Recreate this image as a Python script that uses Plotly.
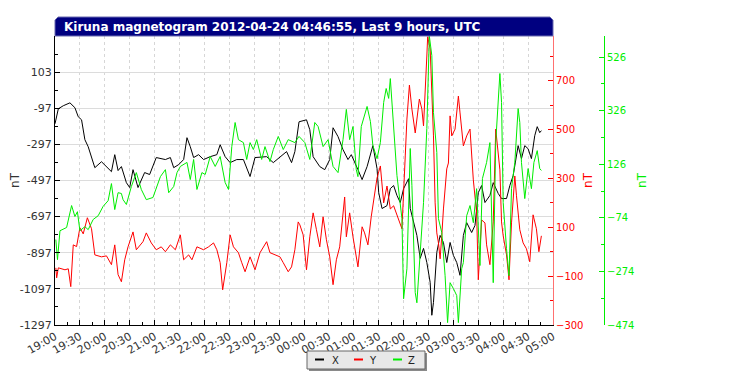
import pandas as pd
import plotly.graph_objects as go

# minutes after 2012-04-23 19:00 UTC
X_min = [0,4,10,18,24,28,32,36,40,44,48,56,62,68,72,76,80,86,90,94,100,108,114,122,133,139,143,149,155,159,
         163,167,173,179,187,195,199,205,211,219,227,235,241,249,255,263,271,279,285,289,294,303,307,311,319,325,331,335,341,347,
         353,357,365,370,376,383,388,390,394,400,404,408,412,416,420,426,428,432,436,440,444,448,452,454,456,460,464,468,472,476,
         480,484,488,492,496,502,506,510,514,518,524,528,534,538,544,548,552,558,562,566,570,574,578,581,584,586]
X_val = [-183,-100,-83,-67,-94,-144,-161,-271,-310,-365,-426,-393,-420,-448,-354,-442,-420,-509,-536,-437,
         -536,-453,-464,-370,-381,-370,-426,-409,-381,-260,-310,-370,-354,-381,-365,-354,-299,-365,-398,-381,
         -381,-475,-370,-365,-365,-398,-365,-337,-398,-337,-172,-161,-216,-365,-420,-437,-381,-205,-254,-326,
         -381,-354,-437,-492,-420,-304,-431,-564,-652,-636,-542,-525,-580,-619,-542,-487,-652,-730,-801,-928,
         -873,-951,-1061,-1243,-1172,-895,-801,-840,-951,-840,-912,-951,-1022,-801,-730,-785,-746,-564,-525,-619,
         -580,-509,-569,-597,-597,-525,-470,-304,-376,-304,-321,-376,-249,-199,-232,-221]

Y_min = [1,2,4,12,16,19,22,26,30,34, 39,44,48,56,62,68,72,76,80,84, 88,94,98,106,110,116,122,128,133,139,
         145,151,155,161,165,171,179,185,191,195, 199,202,207,211,215,221,225,229,235,241, 247,255,259,265,271,275,281,285,289,293,
         295,299,303,307,311,315,319,323,327,331, 335,339,343,349,351,355,359,365,370,373, 377,381,383,388,392,396,400,404,408,412,
         416,418,422,424,427,430,434,439,442,444, 448,449,452,454,456,458,460,462,464,466, 468,472,474,476,478,482,486,488,492,496,
         500,504,508,510,514,518,520,524,528,531, 534,536,538,540,544,547,550,554,556,560, 564,568,572,574,576,580,583,586]
Y_val = [-66,-107,-66,-74,-70,-143,28,21,98,73, 139,94,-13,-21,-17,-53,28,-94,-123,-33, 20,81,8,41,77,36,8,20,0,28,
         8,69,-33,-13,-33,20,8,20,36,8, -45,-156,-45,69,20,-4,-45,-82,-21,-74, -4,41,-4,-13,-21,-45,-82,-62,8,122,
         110,69,-74,61,159,90,20,143,49,-21, -135,-33,20,224,61,159,61,-62,102,77, 28,143,188,302,351,200,269,175,188,147,
         106,94,392,543,682,584,486,625,584,515, 801,880,830,666,474,200,77,36,-29,65, 175,339,363,556,474,502,637,568,433,474,
         502,294,159,-115,130,118,28,-53,122,502, 417,335,122,65,-13,-115,118,310,229,90, 36,12,-41,65,151,94,0,65]

Z_min = [1,3,6,14,20,24,27,30,36,40, 46,52,58,64,68,72,76,80,82,86, 92,98,104,110,118,127,133,137,143,147,
         151,159,163,167,171,177,181,187,193,199, 205,209,213,217,221,227,231,235,239,243, 249,253,259,263,269,275,281,289,294,301,
         307,313,317,323,329,335,341,347,351,355, 359,363,365,369,376,380,383,388,392,396, 399,402,404,408,412,418,420,424,428,430,
         434,436,440,444,448,451,454,456,460,462, 466,470,473,476,480,484,486,490,492,496, 500,504,508,512,515,520,524,528,531,534,
         536,538,540,544,547,550,554,558,560,562, 566,570,574,577,581,584,586]
Z_val = [-155,-230,-122,-110,-28,-69,-51,-122,-107,-118, -80,-66,-31,-10,54,-43,20,17,-6,-24, 43,95,32,-6,2,80,106,20,43,95,
         118,133,69,144,32,95,88,155,118,155, 58,32,192,282,218,207,144,207,181,218, 144,192,136,181,230,181,218,207,230,207,
         144,282,267,192,218,118,95,218,331,218, 267,106,80,267,342,286,196,147,207,357, 409,372,446,271,84,-77,-376,-264,185,47,
         -353,-391,-204,-17,260,605,532,319,170,-77, -129,-290,-465,-316,-338,-364,-465,-264,-241,-66, -28,-92,35,-252,73,133,207,-316,207,394,
         465,357,-17,-189,-290,35,133,334,282,133, -2,110,35,133,177,110,103]

X_ticks = [-1297, -1097, -897, -697, -497, -297, -97, 103]
Y_ticks = [-300, -100, 100, 300, 500, 700]
Z_ticks = [-474, -274, -74, 126, 326, 526]
series_names = ["X", "Y", "Z"]

base = pd.Timestamp("2012-04-23 19:00")
def tt(m):
    return base + pd.to_timedelta(m, unit="min")

FONT = "DejaVu Sans"
GREEN = "#00ee00"
RED = "#ff0000"
colors = ["black", RED, GREEN]

fig = go.Figure()
fig.add_trace(go.Scatter(x=tt(X_min), y=X_val, name=series_names[0], mode="lines",
                         line=dict(color=colors[0], width=1), yaxis="y"))
fig.add_trace(go.Scatter(x=tt(Y_min), y=Y_val, name=series_names[1], mode="lines",
                         line=dict(color=colors[1], width=1), yaxis="y2"))
fig.add_trace(go.Scatter(x=tt(Z_min), y=Z_val, name=series_names[2], mode="lines",
                         line=dict(color=colors[2], width=1), yaxis="y3"))

OFF = 8  # page body margin
W, H = 732 - OFF, 389 - OFF
ml, mt = 55 - OFF, 36 - OFF
pw, ph = 549, 289
mr = W - ml - pw
mb = H - mt - ph
xd = 498 / pw

def px(p):
    return (p - 55) / pw

def py(p):
    return (325 - p) / ph

fig.update_layout(
    width=W, height=H,
    margin=dict(l=ml, r=mr, t=mt, b=mb, autoexpand=False),
    paper_bgcolor="white", plot_bgcolor="white",
    font=dict(family=FONT, size=11, color="#222"),
    showlegend=False,
    xaxis=dict(domain=[0, xd], type="date", automargin=False,
               range=[tt(0), tt(600)],
               tick0=tt(0), dtick=30 * 60 * 1000, tickformat="%H:%M",
               tickangle=-30, ticks="inside", ticklen=5, tickcolor="black",
               minor=dict(dtick=15 * 60 * 1000, tick0=tt(0), ticks="inside", ticklen=3,
                          tickcolor="black", showgrid=False),
               showline=True, linecolor="black", linewidth=1,
               showgrid=True, gridcolor="#d6d6d6", griddash="dot", gridwidth=1,
               zeroline=False, tickfont=dict(size=11, color="#333")),
    yaxis=dict(range=[-1297, 303], tickvals=X_ticks, automargin=False,
               ticktext=[str(v) for v in X_ticks],
               ticks="inside", ticklen=5, tickcolor="black",
               minor=dict(dtick=100, tick0=-1297, ticks="inside", ticklen=3,
                          tickcolor="black", showgrid=False),
               showline=True, linecolor="black", linewidth=1,
               showgrid=True, gridcolor="#dcdcdc", gridwidth=1, zeroline=False,
               title=dict(text="nT", font=dict(size=12, color="#333"), standoff=6),
               tickfont=dict(size=11, color="#333")),
    yaxis2=dict(range=[-300, 883], tickvals=Y_ticks, overlaying="y", side="right",
                anchor="x", ticks="inside", ticklen=5, tickcolor=RED, automargin=False,
                minor=dict(dtick=100, tick0=-300, ticks="inside", ticklen=3,
                           tickcolor=RED, showgrid=False),
                showline=True, linecolor="#ff7070", linewidth=1,
                showgrid=False, zeroline=False,
                title=dict(text="nT", font=dict(size=12, color=RED), standoff=1),
                tickfont=dict(size=10, color=RED)),
    yaxis3=dict(range=[-474, 605], tickvals=Z_ticks, overlaying="y", side="right",
                anchor="free", position=1.0, ticks="inside", ticklen=5, tickcolor=GREEN,
                automargin=False,
                minor=dict(dtick=100, tick0=-474, ticks="inside", ticklen=3,
                           tickcolor=GREEN, showgrid=False),
                showline=True, linecolor=GREEN, linewidth=1,
                showgrid=False, zeroline=False,
                title=dict(text="nT", font=dict(size=12, color=GREEN), standoff=4),
                tickfont=dict(size=10, color=GREEN)),
)

# title bar
cx = 3 / pw
cy = 3 / ph
ytop = 1 + 19 / ph
fig.add_shape(type="path", xref="paper", yref="paper",
              path=f"M 0,1 L 0,{ytop - cy} L {cx},{ytop} L {xd - cx},{ytop} L {xd},{ytop - cy} L {xd},1 Z",
              fillcolor="#000080", line=dict(color="#6a6ab0", width=1), layer="above")
fig.add_annotation(xref="paper", yref="paper", x=7 / pw, y=1 + 9.5 / ph,
                   xanchor="left", yanchor="middle", showarrow=False,
                   text="Kiruna magnetogram 2012-04-24 04:46:55, Last 9 hours, UTC",
                   font=dict(family=FONT, size=12, color="white", weight="bold"))

# legend box (drawn with shapes, with a drop shadow)
fig.add_shape(type="rect", xref="paper", yref="paper",
              x0=px(309), x1=px(427), y0=py(353), y1=py(371),
              fillcolor="#8a8a8a", line=dict(width=0), layer="above")
fig.add_shape(type="rect", xref="paper", yref="paper",
              x0=px(307), x1=px(425), y0=py(351), y1=py(369),
              fillcolor="#e8e8e8", line=dict(color="#666666", width=1), layer="above")
leg_line_x = [315, 354, 393]
leg_text_x = [335, 373, 412]
for name, col, lx, tx in zip(series_names, colors, leg_line_x, leg_text_x):
    fig.add_shape(type="line", xref="paper", yref="paper",
                  x0=px(lx), x1=px(lx + 9), y0=py(359.5), y1=py(359.5),
                  line=dict(color=col, width=2), layer="above")
    fig.add_annotation(xref="paper", yref="paper", x=px(tx), y=py(360),
                       xanchor="center", yanchor="middle", showarrow=False,
                       text=name, font=dict(family=FONT, size=10, color="#222"))

fig.write_html("out.html")
